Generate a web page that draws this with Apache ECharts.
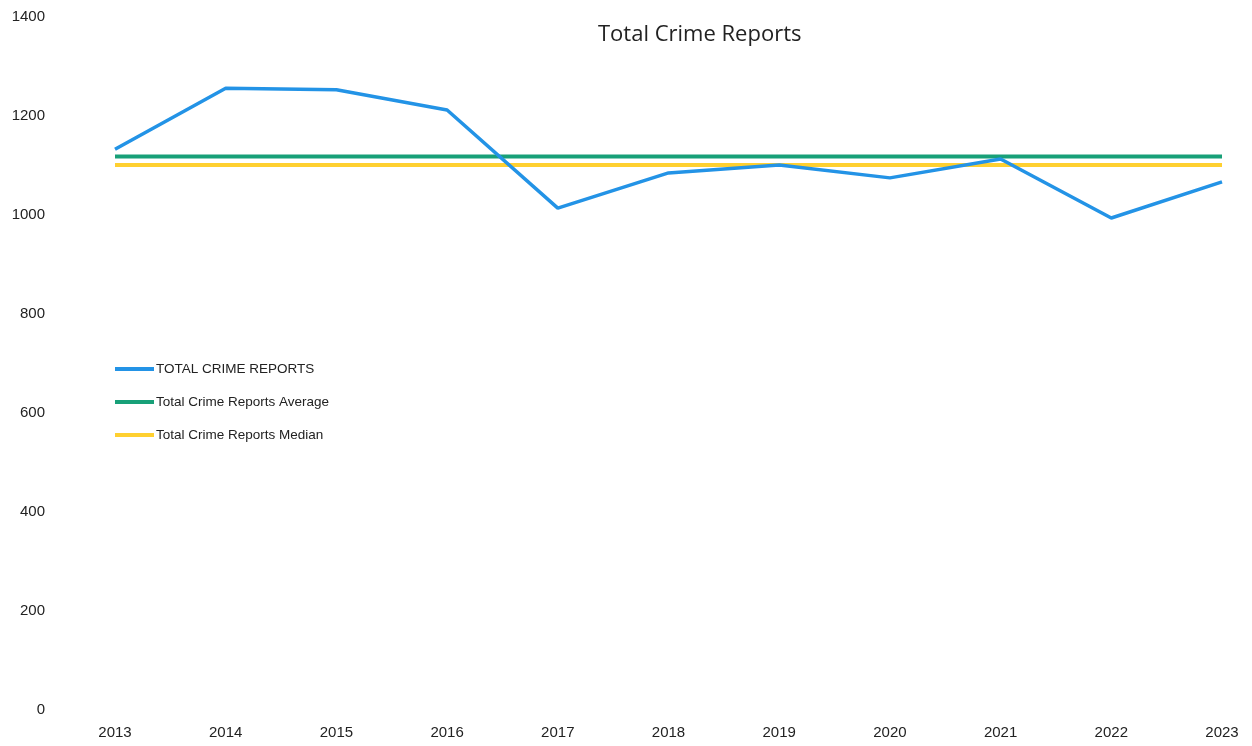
<!DOCTYPE html>
<html>
<head>
<meta charset="utf-8">
<script src="https://cdn.jsdelivr.net/npm/echarts@6/dist/echarts.min.js"></script>
<style>
  html, body { margin: 0; padding: 0; background: #ffffff; }
  #chart { width: 1252px; height: 746px; }
</style>
</head>
<body>
<div id="chart"></div>
<script>
// Yearly totals of crime reports
const years = ['2013', '2014', '2015', '2016', '2017', '2018', '2019', '2020', '2021', '2022', '2023'];
const totalReports = [1133, 1256, 1253, 1212, 1014, 1085, 1101, 1075, 1113, 994, 1067];
// Reference lines (constant across the period)
const averageReports = [1118, 1118, 1118, 1118, 1118, 1118, 1118, 1118, 1118, 1118, 1118];
const medianReports = [1101, 1101, 1101, 1101, 1101, 1101, 1101, 1101, 1101, 1101, 1101];
const seriesNames = ['TOTAL CRIME REPORTS', 'Total Crime Reports Average', 'Total Crime Reports Median'];

const chart = echarts.init(document.getElementById('chart'), null, { renderer: 'canvas' });

const fontFamily = '"Liberation Sans", "DejaVu Sans", sans-serif';

chart.setOption({
  backgroundColor: '#ffffff',
  animation: false,
  title: {
    text: 'Total Crime Reports',
    left: 593,
    top: 19,
    textStyle: { fontFamily: '"Open Sans", "Noto Sans", sans-serif', fontSize: 22, fontWeight: 'normal', color: '#222222' }
  },
  legend: {
    orient: 'vertical',
    left: 110,
    top: 356,
    icon: 'rect',
    itemWidth: 39,
    itemHeight: 4,
    itemGap: 17,
    textStyle: { fontFamily: fontFamily, fontSize: 13.5, color: '#222222', lineHeight: 16, padding: [0, 0, 0, -3] },
    data: seriesNames
  },
  grid: { left: 115, right: 30, top: 17, bottom: 36, containLabel: false },
  xAxis: {
    type: 'category',
    data: years,
    boundaryGap: false,
    axisLine: { show: false },
    axisTick: { show: false },
    splitLine: { show: false },
    axisLabel: { margin: 15, fontFamily: fontFamily, fontSize: 15, color: '#222222' }
  },
  yAxis: {
    type: 'value',
    min: 0,
    max: 1400,
    interval: 200,
    axisLine: { show: false },
    axisTick: { show: false },
    splitLine: { show: false },
    axisLabel: {
      margin: 70,
      fontFamily: fontFamily,
      fontSize: 15,
      color: '#222222',
      formatter: function (v) { return String(v); }
    }
  },
  series: [
    {
      name: seriesNames[1],
      type: 'line',
      data: averageReports,
      symbol: 'none',
      lineStyle: { width: 4, color: '#18a078' },
      itemStyle: { color: '#18a078' },
      z: 2
    },
    {
      name: seriesNames[2],
      type: 'line',
      data: medianReports,
      symbol: 'none',
      lineStyle: { width: 4, color: '#ffd030' },
      itemStyle: { color: '#ffd030' },
      z: 2
    },
    {
      name: seriesNames[0],
      type: 'line',
      data: totalReports,
      symbol: 'none',
      lineStyle: { width: 3.5, color: '#2393e6' },
      itemStyle: { color: '#2393e6' },
      z: 3
    }
  ]
});
</script>
</body>
</html>
